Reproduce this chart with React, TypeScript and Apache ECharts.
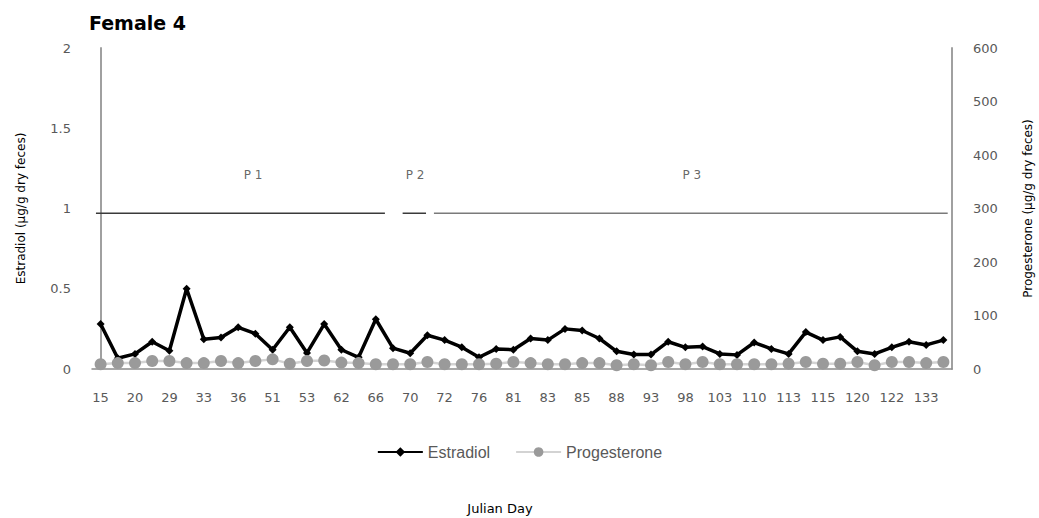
import React, { useEffect, useRef } from "react";
import * as echarts from "echarts";

const days = [
  "15", "17", "20", "23", "29", "31", "33", "34", "36", "44",
  "51", "52", "53", "57", "62", "64", "66", "68", "70", "71",
  "72", "74", "76", "78", "81", "82", "83", "84", "85", "86",
  "88", "90", "93", "95", "98", "100", "103", "106", "110", "112",
  "113", "114", "115", "118", "120", "121", "122", "127", "133", "135",
];

const estradiol = [
  0.28, 0.067, 0.094, 0.17, 0.114, 0.5, 0.186, 0.196, 0.26, 0.22,
  0.12, 0.26, 0.1, 0.28, 0.12, 0.073, 0.31, 0.13, 0.098, 0.21,
  0.18, 0.136, 0.073, 0.125, 0.12, 0.19, 0.18, 0.25, 0.24, 0.19,
  0.11, 0.09, 0.09, 0.17, 0.135, 0.14, 0.094, 0.088, 0.165, 0.125,
  0.094, 0.23, 0.18, 0.2, 0.11, 0.094, 0.135, 0.17, 0.15, 0.18,
];

const progesterone = [
  9, 11, 11, 15, 15, 11, 11, 15, 11, 15,
  18, 10, 15, 16, 12, 11, 9, 9, 9, 13,
  9, 9, 9, 10, 13, 11, 9, 9, 11, 11,
  7, 9, 7, 13, 9, 13, 9, 9, 9, 9,
  10, 13, 10, 10, 13, 7, 13, 13, 11, 13,
];

// Reproductive periods (positions in category-index units, level on estradiol axis)
const periodNames = ["P 1", "P 2", "P 3"];
const periodStarts = [-0.27, 17.56, 19.38];
const periodEnds = [16.53, 18.92, 49.25];
const periodLabelPos = [8.86, 18.28, 34.37];
const periodLevel = 0.97;
const periodLabelLevel = 1.21;
const periodColors = ["#3a3a3a", "#3a3a3a", "#7a7a7a"];

const tickFont = "DejaVu Sans";

export default function App() {
  const ref = useRef<HTMLDivElement>(null);

  useEffect(() => {
    if (!ref.current) return;
    const chart = echarts.init(ref.current, null, { renderer: "svg" });

    const periodSeries = periodNames.map((name, i) => ({
      name: name,
      type: "line",
      xAxisIndex: 1,
      yAxisIndex: 0,
      data: [
        [periodStarts[i], periodLevel],
        [periodEnds[i], periodLevel],
      ],
      symbol: "none",
      lineStyle: { color: periodColors[i], width: 1.5 },
      silent: true,
      z: 1,
    }));

    chart.setOption({
      animation: false,
      backgroundColor: "#ffffff",
      title: {
        text: "Female 4",
        left: 84,
        top: 8,
        textStyle: {
          fontFamily: tickFont,
          fontSize: 19,
          fontWeight: "bold",
          color: "#000000",
        },
      },
      legend: {
        data: ["Estradiol", "Progesterone"],
        left: "center",
        top: 439,
        itemWidth: 45,
        itemHeight: 12,
        itemGap: 25,
        textStyle: {
          fontFamily: "Liberation Sans",
          fontSize: 16,
          color: "#595959",
        },
      },
      grid: {
        left: 92,
        right: 87,
        top: 48,
        bottom: 149,
        containLabel: false,
        outerBoundsMode: "none",
      },
      xAxis: [
        {
          type: "category",
          data: days,
          boundaryGap: true,
          name: "Julian Day",
          nameLocation: "middle",
          nameGap: 133,
          nameTextStyle: {
            fontFamily: tickFont,
            fontSize: 13,
            color: "#000000",
            padding: [0, 44, 0, 0],
          },
          axisLine: { lineStyle: { color: "#8c8c8c", width: 1.5 } },
          axisTick: { show: false },
          axisLabel: {
            interval: 1,
            margin: 22,
            fontFamily: tickFont,
            fontSize: 13,
            color: "#595959",
          },
          splitLine: { show: false },
        },
        {
          type: "value",
          min: -0.5,
          max: 49.5,
          show: false,
        },
      ],
      yAxis: [
        {
          type: "value",
          min: 0,
          max: 2,
          interval: 0.5,
          name: "Estradiol (µg/g dry feces)",
          nameLocation: "middle",
          nameRotate: 90,
          nameGap: 65,
          nameTextStyle: { fontFamily: tickFont, fontSize: 12, color: "#000000" },
          axisLine: { show: true, lineStyle: { color: "#a0a0a0", width: 2 } },
          axisTick: { show: false },
          axisLabel: { margin: 21, fontFamily: tickFont, fontSize: 13, color: "#595959" },
          splitLine: { show: false },
        },
        {
          type: "value",
          min: 0,
          max: 600,
          interval: 100,
          position: "right",
          name: "Progesterone (µg/g dry feces)",
          nameLocation: "middle",
          nameRotate: 90,
          nameGap: 70,
          nameTextStyle: { fontFamily: tickFont, fontSize: 12, color: "#000000" },
          axisLine: { show: true, lineStyle: { color: "#a0a0a0", width: 2 } },
          axisTick: { show: false },
          axisLabel: { margin: 21, fontFamily: tickFont, fontSize: 13, color: "#595959" },
          splitLine: { show: false },
        },
      ],
      series: [
        ...periodSeries,
        {
          name: "periodLabels",
          type: "scatter",
          xAxisIndex: 1,
          yAxisIndex: 0,
          symbolSize: 0,
          silent: true,
          data: periodNames.map((n, i) => ({
            name: n,
            value: [periodLabelPos[i], periodLabelLevel],
          })),
          label: {
            show: true,
            position: "inside",
            formatter: "{b}",
            fontFamily: tickFont,
            fontSize: 12,
            color: "#404040",
          },
        },
        {
          name: "Estradiol",
          type: "line",
          yAxisIndex: 0,
          data: estradiol,
          symbol: "diamond",
          symbolSize: 8,
          showAllSymbol: true,
          itemStyle: { color: "#000000" },
          lineStyle: { color: "#000000", width: 3.5 },
          z: 3,
        },
        {
          name: "Progesterone",
          type: "line",
          yAxisIndex: 1,
          data: progesterone,
          symbol: "circle",
          symbolSize: 12,
          showAllSymbol: true,
          itemStyle: { color: "#9a9a9a" },
          lineStyle: { color: "#d3d3d3", width: 2.5 },
          z: 4,
        },
      ],
    });

    return () => chart.dispose();
  }, []);

  return (
    <div
      ref={ref}
      style={{ position: "absolute", left: 0, top: 0, width: 1039, height: 518 }}
    />
  );
}
